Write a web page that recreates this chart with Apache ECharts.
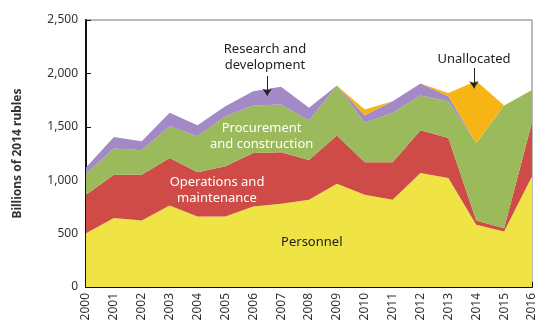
<!DOCTYPE html>
<html><head><meta charset="utf-8">
<script src="https://cdn.jsdelivr.net/npm/echarts@6/dist/echarts.min.js"></script>
<style>html,body{margin:0;padding:0;background:#fff}#c{width:550px;height:333px}</style>
</head><body><div id="c"></div>
<script>
const years = ['2000','2001','2002','2003','2004','2005','2006','2007','2008','2009','2010','2011','2012','2013','2014','2015','2016'];
const personnel   = [504,645,623,764,660,660,754,779,817,967,864,817,1067,1020,582,520,1036];
const operations  = [360,407,429,444,414,470,501,483,373,451,303,350,401,376,41,31,507];
const procurement = [196,244,228,297,338,469,445,447,368,469,370,464,325,344,726,1149,301];
const research    = [60,109,85,126,103,94,134,166,120,0,72,109,113,47,0,0,0];
const unallocated = [0,0,0,0,0,0,0,0,0,0,53,0,0,30,580,0,0];
const yTicks = [0,500,1000,1500,2000,2500];

const font = '"Noto Sans", "Open Sans", sans-serif';
const chart = echarts.init(document.getElementById('c'), null, {renderer:'canvas'});
function mk(name, vals, color) {
  return {
    name: name, type: 'line', stack: 'total', symbol: 'none', silent: true,
    xAxisIndex: 0, lineStyle: {width: 0}, areaStyle: {color: color, opacity: 1},
    data: vals
  };
}
const series = [
  mk('Personnel', personnel, '#EFE346'),
  mk('Operations and maintenance', operations, '#CF4B47'),
  mk('Procurement and construction', procurement, '#9BBA5B'),
  mk('Research and development', research, '#A489C7'),
  mk('Unallocated', unallocated, '#F7B515')
];
series.push({
  type: 'line', data: [], silent: true, xAxisIndex: 1, z: 10,
  markLine: {
    silent: true, symbol: ['none','arrow'], symbolSize: 7,
    lineStyle: {color: '#222', width: 1, type: 'solid'}, label: {show: false},
    data: [
      [{coord:[2006.5, 1975]}, {coord:[2006.5, 1790]}],
      [{coord:[2013.92, 2050]}, {coord:[2013.92, 1860]}]
    ]
  }
});
chart.setOption({
  animation: false,
  grid: {left: 86, right: 18, top: 20, bottom: 46, show: true, borderColor: '#777', borderWidth: 1},
  xAxis: [{
    type: 'category', data: years, boundaryGap: false,
    axisLine: {show: true, lineStyle: {color: '#111', width: 2}},
    axisTick: {show: true, inside: true, length: 5, alignWithLabel: true, lineStyle: {color: '#111'}},
    splitLine: {show: false},
    axisLabel: {rotate: 90, color: '#333', fontSize: 12, fontFamily: font, margin: 6, interval: 0}
  }, {
    type: 'value', min: 2000, max: 2016, show: false
  }],
  yAxis: {
    type: 'value', min: 0, max: 2500, interval: 500,
    name: 'Billions of 2014 rubles', nameLocation: 'middle', nameRotate: 90, nameGap: 62,
    nameTextStyle: {fontSize: 12, fontWeight: 'bold', color: '#333', fontFamily: font},
    axisLine: {show: true, lineStyle: {color: '#111', width: 2}},
    axisTick: {show: true, inside: true, length: 5, lineStyle: {color: '#111'}},
    splitLine: {show: false},
    axisLabel: {color: '#333', fontSize: 12, fontFamily: font, margin: 8,
      formatter: v => v.toLocaleString('en-US')}
  },
  series: series
});
function P(x,y){ return chart.convertToPixel({xAxisIndex:1, yAxisIndex:0}, [x,y]); }
const labels = [
  {t:'Research and\ndevelopment', x:2006.42, y:2150, c:'#222'},
  {t:'Procurement\nand construction', x:2006.3, y:1415, c:'#fff'},
  {t:'Operations and\nmaintenance', x:2004.7, y:905, c:'#fff'},
  {t:'Personnel', x:2008.1, y:423, c:'#222'},
  {t:'Unallocated', x:2013.92, y:2131, c:'#222'}
];
chart.setOption({graphic: labels.map(l=>{const p=P(l.x,l.y); return {
  type:'text', x:p[0], y:p[1], silent:true, z: 100,
  style:{text:l.t, fill:l.c, font:'13px '+font, align:'center', verticalAlign:'middle', lineHeight:16}
};})});
</script></body></html>
